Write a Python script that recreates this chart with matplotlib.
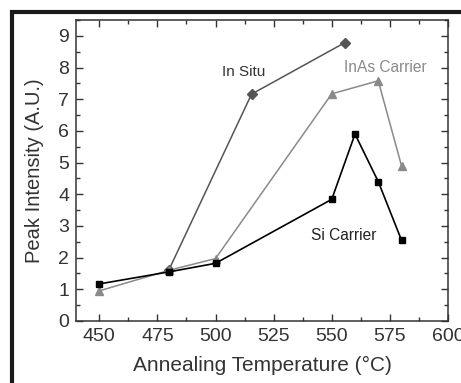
import matplotlib
matplotlib.use("Agg")
import matplotlib.pyplot as plt
from matplotlib.patches import Rectangle
from matplotlib.ticker import MultipleLocator

plt.rcParams["font.family"] = ["Liberation Sans", "DejaVu Sans"]

# Data
si_temp = [450, 480, 500, 550, 560, 570, 580]
si_peak = [1.17, 1.55, 1.82, 3.84, 5.90, 4.40, 2.55]

inas_temp = [450, 480, 500, 550, 570, 580]
inas_peak = [0.95, 1.60, 1.97, 7.17, 7.58, 4.90]

insitu_temp = [480, 515.5, 555.5]
insitu_peak = [1.62, 7.16, 8.78]

fig = plt.figure(figsize=(4.61, 3.83), dpi=100)
ax = fig.add_axes([0.1649, 0.1619, 0.8069, 0.7859])

ax.plot(insitu_temp, insitu_peak, color="#555555", marker="D", markersize=5, linewidth=1.1)
ax.plot(inas_temp, inas_peak, color="#8a8a8a", marker="^", markersize=6, linewidth=1.1)
ax.plot(si_temp, si_peak, color="black", marker="s", markersize=5, linewidth=1.2)

ax.text(512, 7.86, "In Situ", color="#333333", fontsize=11, ha="center", va="center")
ax.text(573.2, 7.99, "InAs Carrier", color="#8a8a8a", fontsize=11.2, ha="center", va="center")
ax.text(555.1, 2.71, "Si Carrier", color="#222222", fontsize=11.2, ha="center", va="center")

ax.set_xlim(440, 600)
ax.set_ylim(0, 9.5)
ax.xaxis.set_major_locator(MultipleLocator(25))
ax.xaxis.set_minor_locator(MultipleLocator(12.5))
ax.yaxis.set_major_locator(MultipleLocator(1))
ax.yaxis.set_minor_locator(MultipleLocator(0.5))
ax.tick_params(which="both", direction="in", top=True, right=True, colors="#333333",
               labelsize=14, width=1)
ax.tick_params(which="major", length=5, pad=5)
ax.tick_params(which="minor", length=3)
ax.set_xticks([450, 475, 500, 525, 550, 575, 600])
for s in ax.spines.values():
    s.set_color("#333333")
    s.set_linewidth(1.1)

ax.set_xlabel("Annealing Temperature (°C)", fontsize=15, color="#333333", labelpad=8)
ax.set_ylabel("Peak Intensity (A.U.)", fontsize=14.5, color="#333333", labelpad=10)

# thick frame of the cropped picture (top and left)
fig.patches.append(Rectangle((12 / 461, -0.1), 1.2, 1.1 - 12 / 383, transform=fig.transFigure,
                             fill=False, edgecolor="#1a1a1a", linewidth=3, clip_on=False))

fig.savefig("out.png", dpi=100)
